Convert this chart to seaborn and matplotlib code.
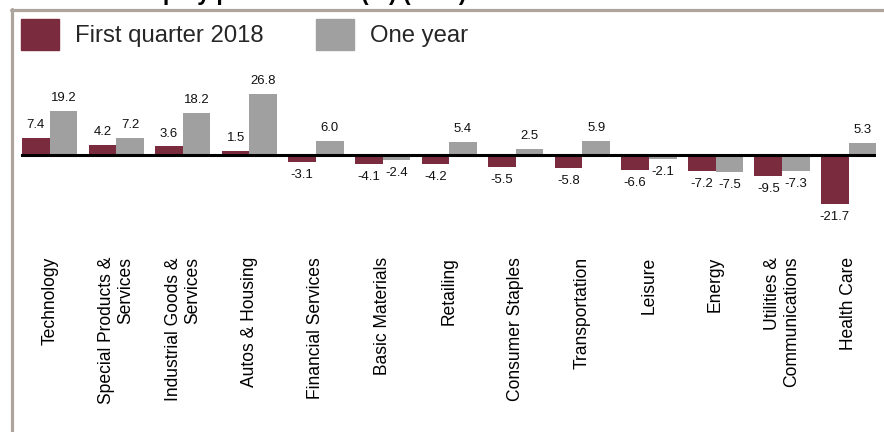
import pandas as pd
import matplotlib.pyplot as plt
import seaborn as sns
from matplotlib import font_manager
from matplotlib.lines import Line2D

# Sector returns (%)
sectors = ['Technology', 'Special Products &\nServices', 'Industrial Goods &\nServices',
           'Autos & Housing', 'Financial Services', 'Basic Materials', 'Retailing',
           'Consumer Staples', 'Transportation', 'Leisure', 'Energy',
           'Utilities &\nCommunications', 'Health Care']
first_quarter = [7.4, 4.2, 3.6, 1.5, -3.1, -4.1, -4.2, -5.5, -5.8, -6.6, -7.2, -9.5, -21.7]
one_year = [19.2, 7.2, 18.2, 26.8, 6.0, -2.4, 5.4, 2.5, 5.9, -2.1, -7.5, -7.3, 5.3]
series_names = ['First quarter 2018', 'One year']

df = pd.DataFrame({
    'sector': sectors * 2,
    'value': first_quarter + one_year,
    'period': [series_names[0]] * len(sectors) + [series_names[1]] * len(sectors),
})

sns.set_theme(style='white')
names = {f.name for f in font_manager.fontManager.ttflist}
narrow = 'Liberation Sans Narrow' in names
plt.rcParams['font.family'] = ['Liberation Sans Narrow', 'Liberation Sans', 'DejaVu Sans']
k = 1.0 if narrow else 0.82

W, H = 884, 432
fig = plt.figure(figsize=(W / 100, H / 100), dpi=100)
fig.patch.set_facecolor('white')

# axes spans x 21..876 px, y 40..245 px
ax = fig.add_axes([21 / W, 1 - 245 / H, (876 - 21) / W, 205 / H])
colors = {series_names[0]: '#7B2B3E', series_names[1]: '#A0A0A0'}
sns.barplot(data=df, x='sector', y='value', hue='period', order=sectors,
            hue_order=series_names, palette=colors, width=0.83, gap=0,
            saturation=1, edgecolor='none', linewidth=0, ax=ax, legend=False)

ax.set_xlim(-0.43, 12.41)
ax.set_ylim(-39.6, 50.3)
ax.axhline(0, color='black', lw=2.2, zorder=3)
for s in ax.spines.values():
    s.set_visible(False)
ax.set_yticks([])
ax.set_xlabel('')
ax.set_ylabel('')
ax.tick_params(axis='x', length=0, pad=8.6)
ax.set_xticks(range(len(sectors)))
ax.set_xticklabels(sectors, rotation=90, fontsize=15.4 * k, ha='center', va='top',
                   multialignment='right', color='black')

for cont in ax.containers:
    ax.bar_label(cont, fmt='%.1f', padding=5, fontsize=11.5 * k, color='#111111')

# legend
handles = [plt.Rectangle((0, 0), 1, 1, color=colors[n]) for n in series_names]
fig.legend(handles, series_names, loc='upper left', bbox_to_anchor=(21 / W, 1 - 19 / H),
           ncol=2, frameon=False, fontsize=21 * k, handlelength=1.59, handleheight=1.59,
           handletextpad=0.67, columnspacing=2.2, borderpad=0, borderaxespad=0)

# title, cut off by the top edge
fig.text(65 / W, 1.0, 'Sector equity performance (%) (USD)', fontsize=16.5,
         fontweight='bold', ha='left', va='baseline', color='black')

# frame lines (top and left)
border = '#ADA59D'
fig.add_artist(Line2D([11 / W, 1], [1 - 9.5 / H, 1 - 9.5 / H], color=border, lw=2.3,
                      transform=fig.transFigure))
fig.add_artist(Line2D([12 / W, 12 / W], [0, 1 - 8.5 / H], color=border, lw=2.3,
                      transform=fig.transFigure))

fig.savefig('out.png', dpi=100, facecolor='white')
